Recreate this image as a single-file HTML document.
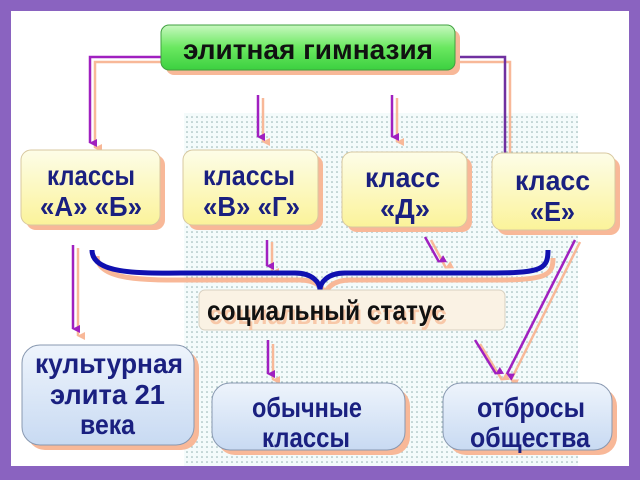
<!DOCTYPE html>
<html><head><meta charset="utf-8"><style>
body{margin:0;width:640px;height:480px;overflow:hidden;background:#fff}
text{font-family:"Liberation Sans","DejaVu Sans",sans-serif;font-weight:bold}
</style></head><body>
<svg width="640" height="480" xmlns="http://www.w3.org/2000/svg">
<defs>
<pattern id="dots" width="5" height="5" patternUnits="userSpaceOnUse"><rect width="5" height="5" fill="#f4fbfb"/><circle cx="2" cy="2" r="0.8" fill="#8fb0b0"/></pattern>
<linearGradient id="g" x1="0" y1="0" x2="0" y2="1"><stop offset="0" stop-color="#c8f8c0"/><stop offset="0.5" stop-color="#6ae860"/><stop offset="1" stop-color="#3cd040"/></linearGradient>
<linearGradient id="y" x1="0" y1="0" x2="0" y2="1"><stop offset="0" stop-color="#fdfde8"/><stop offset="1" stop-color="#fbf39a"/></linearGradient>
<linearGradient id="b" x1="0" y1="0" x2="0" y2="1"><stop offset="0" stop-color="#eef4fc"/><stop offset="1" stop-color="#c8daf2"/></linearGradient>
<marker id="a" markerWidth="8" markerHeight="8" refX="4" refY="7" orient="auto-start-reverse" markerUnits="userSpaceOnUse"><path d="M0,0 L4,8 L8,0 Z" fill="#a020c0"/></marker>
<marker id="p" markerWidth="8" markerHeight="8" refX="4" refY="7" orient="auto" markerUnits="userSpaceOnUse"><path d="M0,0 L4,8 L8,0 Z" fill="#f8b898"/></marker>
</defs>
<rect x="0" y="0" width="640" height="480" fill="#8a63c0"/>
<rect x="11" y="11" width="618" height="455" fill="#fff"/>
<rect x="184" y="113" width="394" height="353" fill="url(#dots)"/>
<g fill="none" stroke-width="2.5">
<g stroke="#f8b898">
<path d="M163,62 H95 V148" marker-end="url(#p)"/>
<path d="M457,62 H510 V188"/>
<path d="M263,98 V142" marker-end="url(#p)"/>
<path d="M397,98 V142" marker-end="url(#p)"/>
<path d="M272,242 V272" marker-end="url(#p)"/>
<path d="M431,240 L446,268" marker-end="url(#p)"/>
<path d="M78,248 V336" marker-end="url(#p)"/>
<path d="M580,242 L511,380" marker-end="url(#p)"/>
<path d="M273,344 V380" marker-end="url(#p)"/>
<path d="M480,344 L502,380" marker-end="url(#p)"/>
<path d="M97,256 C97,282 150,280 200,280 H300 C318,280 325,290 325,296 C325,290 332,280 350,280 H500 C548,280 553,274 553,258" stroke-width="5"/>
</g>
<g stroke="#a020c0">
<path d="M161,57 H90 V143" marker-end="url(#a)"/>
<path d="M258,95 V137" marker-end="url(#a)"/>
<path d="M392,95 V137" marker-end="url(#a)"/>
<path d="M267,240 V266" marker-end="url(#a)"/>
<path d="M425,237 L439,262" marker-end="url(#a)"/>
<path d="M73,245 V329" marker-end="url(#a)"/>
<path d="M575,240 L507,374" marker-end="url(#a)"/>
<path d="M268,340 V374" marker-end="url(#a)"/>
<path d="M475,340 L496,374" marker-end="url(#a)"/>
</g>
<path d="M455,57 H505 V185 H528" stroke="#7030a0" marker-end="url(#a)"/>
<path d="M92,250 C92,276 145,273 195,273 H295 C313,273 320,283 320,290 C320,283 327,273 345,273 H495 C543,273 548,268 548,250" stroke="#1010b0" stroke-width="5"/>
</g>
<g fill="#f8b898">
<rect x="166" y="30" width="294" height="45" rx="8"/>
<rect x="26" y="155" width="139" height="75" rx="10"/>
<rect x="188" y="155" width="135" height="75" rx="10"/>
<rect x="347" y="157" width="125" height="75" rx="10"/>
<rect x="497" y="158" width="123" height="77" rx="10"/>
<rect x="27" y="350" width="172" height="100" rx="18"/>
<rect x="217" y="388" width="193" height="67" rx="18"/>
<rect x="448" y="388" width="169" height="67" rx="18"/>
</g>
<rect x="161" y="25" width="294" height="45" rx="8" fill="url(#g)" stroke="#40a040"/>
<g fill="url(#y)" stroke="#d8c8a0">
<rect x="21" y="150" width="139" height="75" rx="10"/>
<rect x="183" y="150" width="135" height="75" rx="10"/>
<rect x="342" y="152" width="125" height="75" rx="10"/>
<rect x="492" y="153" width="123" height="77" rx="10"/>
</g>
<rect x="199" y="290" width="306" height="40" rx="6" fill="#faf2e4" stroke="#d8d0c0"/>
<g fill="url(#b)" stroke="#8898b0">
<rect x="22" y="345" width="172" height="100" rx="18"/>
<rect x="212" y="383" width="193" height="67" rx="18"/>
<rect x="443" y="383" width="169" height="67" rx="18"/>
</g>
<text x="183" y="59" font-size="28" fill="#111" textLength="250" lengthAdjust="spacingAndGlyphs">элитная гимназия</text>
<g font-size="28" fill="#1a2080">
<text x="47" y="185" textLength="88" lengthAdjust="spacingAndGlyphs">классы</text>
<text x="40" y="216" textLength="102" lengthAdjust="spacingAndGlyphs">«А» «Б»</text>
<text x="203" y="185" textLength="92" lengthAdjust="spacingAndGlyphs">классы</text>
<text x="203" y="216" textLength="97" lengthAdjust="spacingAndGlyphs">«В» «Г»</text>
<text x="365" y="187" textLength="75" lengthAdjust="spacingAndGlyphs">класс</text>
<text x="380" y="218" textLength="50" lengthAdjust="spacingAndGlyphs">«Д»</text>
<text x="515" y="190" textLength="75" lengthAdjust="spacingAndGlyphs">класс</text>
<text x="530" y="221" textLength="45" lengthAdjust="spacingAndGlyphs">«Е»</text>
<text x="35" y="373" textLength="148" lengthAdjust="spacingAndGlyphs">культурная</text>
<text x="50" y="404" textLength="115" lengthAdjust="spacingAndGlyphs">элита  21</text>
<text x="80" y="434" textLength="55" lengthAdjust="spacingAndGlyphs">века</text>
<text x="252" y="417" textLength="110" lengthAdjust="spacingAndGlyphs">обычные</text>
<text x="262" y="447" textLength="88" lengthAdjust="spacingAndGlyphs">классы</text>
<text x="477" y="417" textLength="108" lengthAdjust="spacingAndGlyphs">отбросы</text>
<text x="470" y="447" textLength="120" lengthAdjust="spacingAndGlyphs">общества</text>
</g>
<text x="209" y="324" font-size="28" fill="#f8c8a8" textLength="238" lengthAdjust="spacingAndGlyphs">социальный статус</text>
<text x="207" y="320" font-size="28" fill="#111" textLength="238" lengthAdjust="spacingAndGlyphs">социальный статус</text>
</svg>
</body></html>
